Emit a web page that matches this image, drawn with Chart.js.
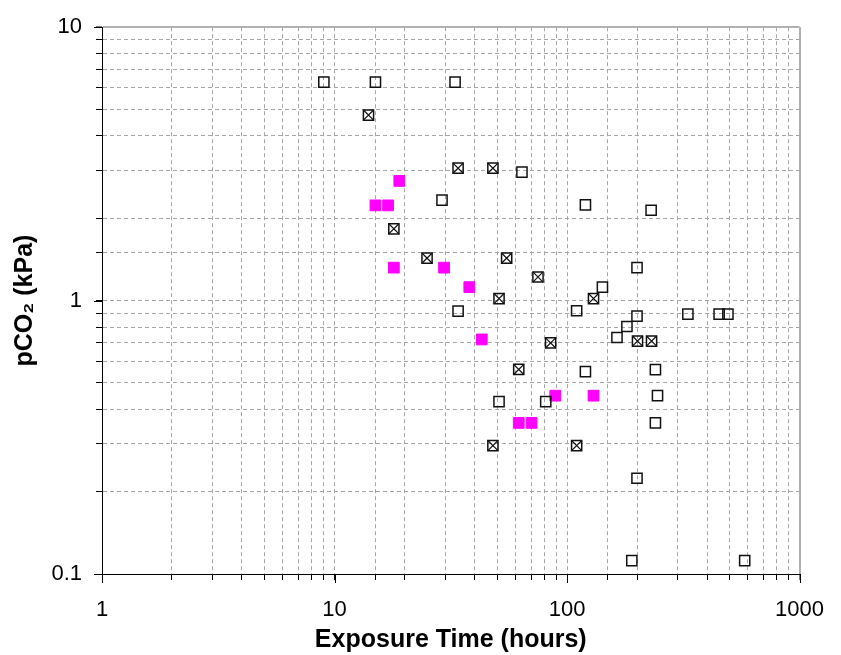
<!DOCTYPE html>
<html>
<head>
<meta charset="utf-8">
<script src="https://cdn.jsdelivr.net/npm/chart.js@4.4.1/dist/chart.umd.min.js"></script>
<style>
  html, body { margin: 0; padding: 0; background: #ffffff; }
  #wrap { width: 841px; height: 655px; }
</style>
</head>
<body>
<div id="wrap"><canvas id="c" width="841" height="655"></canvas></div>
<script>
// Open squares
const openX = [9, 15, 33, 64, 29, 34, 51, 81, 120, 230, 200, 142, 110, 200, 181, 164, 331, 451, 492, 120, 240, 245, 240, 200, 190, 581];
const openY = [6.3, 6.3, 6.3, 2.95, 2.33, 0.915, 0.427, 0.427, 2.24, 2.14, 1.32, 1.12, 0.918, 0.878, 0.804, 0.733, 0.892, 0.892, 0.892, 0.55, 0.559, 0.449, 0.357, 0.224, 0.112, 0.112];
// Crossed squares
const crossX = [14, 34, 48, 18, 25, 55, 75, 51, 85, 62, 48, 110, 130, 201, 231];
const crossY = [4.77, 3.05, 3.05, 1.83, 1.43, 1.43, 1.22, 1.017, 0.70, 0.56, 0.295, 0.295, 1.017, 0.711, 0.711];
// Filled magenta squares
const magX = [19, 15, 17, 18, 29.6, 38, 43, 89, 130, 62, 70.4];
const magY = [2.74, 2.23, 2.23, 1.32, 1.32, 1.12, 0.721, 0.449, 0.449, 0.357, 0.357];

const xMajorLabels = [1, 10, 100, 1000];
const yMajorLabels = [0.1, 1, 10];
const xTitle = 'Exposure Time (hours)';
const yTitle = 'pCO\u2082 (kPa)';

function pts(xs, ys) { return xs.map((x, i) => ({ x: x, y: ys[i] })); }
function isMajor(v, list) { return list.some(m => Math.abs(v - m) < 1e-9 * m); }

const FONT = "'Liberation Sans', Arial, 'DejaVu Sans', sans-serif";
const GRID = '#a6a6a6';

// longer tick marks at the labelled (major) values, placed by the scales
const majorTicks = {
  id: 'majorTicks',
  afterDraw(chart) {
    const ctx = chart.ctx, xs = chart.scales.x, ys = chart.scales.y;
    const a = chart.chartArea;
    ctx.save();
    ctx.strokeStyle = '#000';
    ctx.lineWidth = 1;
    ctx.beginPath();
    xMajorLabels.forEach(v => {
      const px = Math.round(xs.getPixelForValue(v)) + 0.5;
      ctx.moveTo(px, a.bottom); ctx.lineTo(px, a.bottom + 9);
    });
    yMajorLabels.forEach(v => {
      const py = Math.round(ys.getPixelForValue(v)) + 0.5;
      ctx.moveTo(a.left, py); ctx.lineTo(a.left - 8, py);
    });
    ctx.stroke();
    ctx.restore();
  }
};

new Chart(document.getElementById('c'), {
  type: 'scatter',
  data: {
    datasets: [
      { label: 'open', data: pts(openX, openY), pointStyle: 'rect', pointRadius: 7.2,
        backgroundColor: 'rgba(0,0,0,0)', borderColor: '#111', borderWidth: 1.5 },
      { label: 'crossed', data: pts(crossX, crossY), pointStyle: 'rect', pointRadius: 7.2,
        backgroundColor: 'rgba(0,0,0,0)', borderColor: '#111', borderWidth: 1.5 },
      { label: 'crossedX', data: pts(crossX, crossY), pointStyle: 'crossRot', pointRadius: 7.2,
        borderColor: '#111', borderWidth: 1.2 },
      { label: 'magenta', data: pts(magX, magY), pointStyle: 'rect', pointRadius: 7.6,
        backgroundColor: '#ff00ff', borderColor: '#ff00ff', borderWidth: 1 }
    ]
  },
  plugins: [majorTicks],
  options: {
    responsive: false,
    animation: false,
    events: [],
    layout: { padding: { top: 20, right: 29, left: 0, bottom: 0 } },
    plugins: { legend: { display: false }, tooltip: { enabled: false } },
    scales: {
      x: {
        type: 'logarithmic', min: 1, max: 1000,
        afterFit: s => { s.height = 81; },
        ticks: {
          autoSkip: false, maxRotation: 0, minRotation: 0, padding: 17,
          color: '#000', font: { family: FONT, size: 22 },
          callback: v => isMajor(v, xMajorLabels) ? String(v) : ''
        },
        grid: {
          color: c => (c.tick && c.tick.value === 1000) ? '#b0b0b0' : GRID,
          lineWidth: c => (c.tick && c.tick.value === 1000) ? 2 : 1,
          tickColor: '#000', tickLength: 6, tickWidth: 1, tickBorderDash: []
        },
        border: {
          display: true, color: '#000', width: 1,
          dash: c => (c.tick && c.tick.value === 1000) ? [] : [4, 3]
        },
        title: {
          display: true, text: xTitle, color: '#000',
          font: { family: FONT, size: 25, weight: 'bold' }, padding: { top: 0, bottom: 0 }
        }
      },
      y: {
        type: 'logarithmic', min: 0.1, max: 10,
        afterFit: s => { s.width = 102; },
        ticks: {
          autoSkip: false, padding: 14,
          color: '#000', font: { family: FONT, size: 22 },
          callback: v => isMajor(v, yMajorLabels) ? String(v) : ''
        },
        grid: {
          color: c => (c.tick && c.tick.value === 10) ? '#b0b0b0' : GRID,
          lineWidth: c => (c.tick && c.tick.value === 10) ? 2 : 1,
          tickColor: '#000', tickLength: 6, tickWidth: 1, tickBorderDash: []
        },
        border: {
          display: true, color: '#000', width: 1,
          dash: c => (c.tick && c.tick.value === 10) ? [] : [4, 3]
        },
        title: {
          display: true, text: yTitle, color: '#000',
          font: { family: FONT, size: 25, weight: 'bold' }, padding: { top: 10, bottom: 0 }
        }
      }
    }
  }
});
</script>
</body>
</html>
